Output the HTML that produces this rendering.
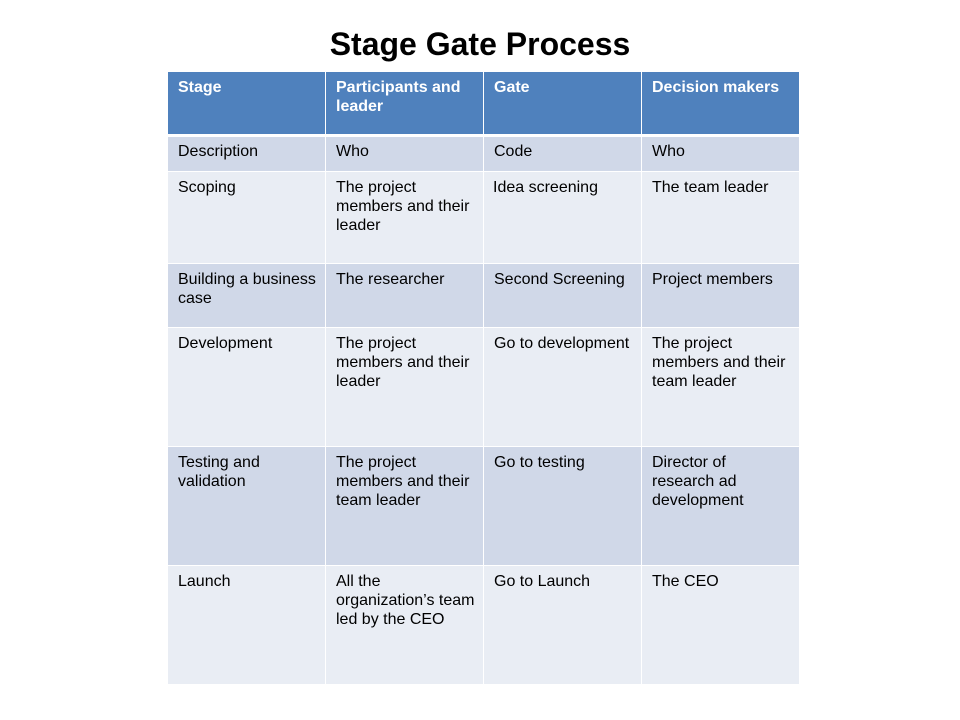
<!DOCTYPE html>
<html>
<head>
<meta charset="utf-8">
<style>
  html, body { margin:0; padding:0; background:#fff; }
  body { width:960px; height:720px; position:relative; overflow:hidden; font-family:"Liberation Sans", Arial, sans-serif; }
  .title { position:absolute; left:0; width:960px; top:24px; text-align:center; font-weight:bold; font-size:32px; line-height:40px; color:#000; }
  .c { position:absolute; box-sizing:border-box; padding:6px 0 0 10px; font-size:16px; line-height:19px; color:#000; white-space:nowrap; }
  .h { background:#4F81BD; color:#fff; font-weight:bold; }
  .d { background:#D0D8E8; }
  .l { background:#E9EDF4; }
  .c1 { left:168px; width:157px; }
  .c2 { left:326px; width:157px; }
  .c3 { left:484px; width:157px; }
  .c4 { left:642px; width:157px; }
</style>
</head>
<body>
<div class="title">Stage Gate Process</div>

<!-- header -->
<div class="c h c1" style="top:72px;height:62px;">Stage</div>
<div class="c h c2" style="top:72px;height:62px;">Participants and<br>leader</div>
<div class="c h c3" style="top:72px;height:62px;">Gate</div>
<div class="c h c4" style="top:72px;height:62px;">Decision makers</div>

<!-- description -->
<div class="c d c1" style="top:137px;height:34px;padding-top:5px;">Description</div>
<div class="c d c2" style="top:137px;height:34px;padding-top:5px;">Who</div>
<div class="c d c3" style="top:137px;height:34px;padding-top:5px;">Code</div>
<div class="c d c4" style="top:137px;height:34px;padding-top:5px;">Who</div>

<!-- scoping -->
<div class="c l c1" style="top:172px;height:91px;">Scoping</div>
<div class="c l c2" style="top:172px;height:91px;">The project<br>members and their<br>leader</div>
<div class="c l c3" style="top:172px;height:91px;padding-left:9px;">Idea screening</div>
<div class="c l c4" style="top:172px;height:91px;">The team leader</div>

<!-- building -->
<div class="c d c1" style="top:264px;height:63px;">Building a business<br>case</div>
<div class="c d c2" style="top:264px;height:63px;">The researcher</div>
<div class="c d c3" style="top:264px;height:63px;">Second Screening</div>
<div class="c d c4" style="top:264px;height:63px;">Project members</div>

<!-- development -->
<div class="c l c1" style="top:328px;height:118px;">Development</div>
<div class="c l c2" style="top:328px;height:118px;">The project<br>members and their<br>leader</div>
<div class="c l c3" style="top:328px;height:118px;">Go to development</div>
<div class="c l c4" style="top:328px;height:118px;">The project<br>members and their<br>team leader</div>

<!-- testing -->
<div class="c d c1" style="top:447px;height:118px;">Testing and<br>validation</div>
<div class="c d c2" style="top:447px;height:118px;">The project<br>members and their<br>team leader</div>
<div class="c d c3" style="top:447px;height:118px;">Go to testing</div>
<div class="c d c4" style="top:447px;height:118px;">Director of<br>research ad<br>development</div>

<!-- launch -->
<div class="c l c1" style="top:566px;height:118px;">Launch</div>
<div class="c l c2" style="top:566px;height:118px;">All the<br>organization’s team<br>led by the CEO</div>
<div class="c l c3" style="top:566px;height:118px;">Go to Launch</div>
<div class="c l c4" style="top:566px;height:118px;">The CEO</div>
</body>
</html>
